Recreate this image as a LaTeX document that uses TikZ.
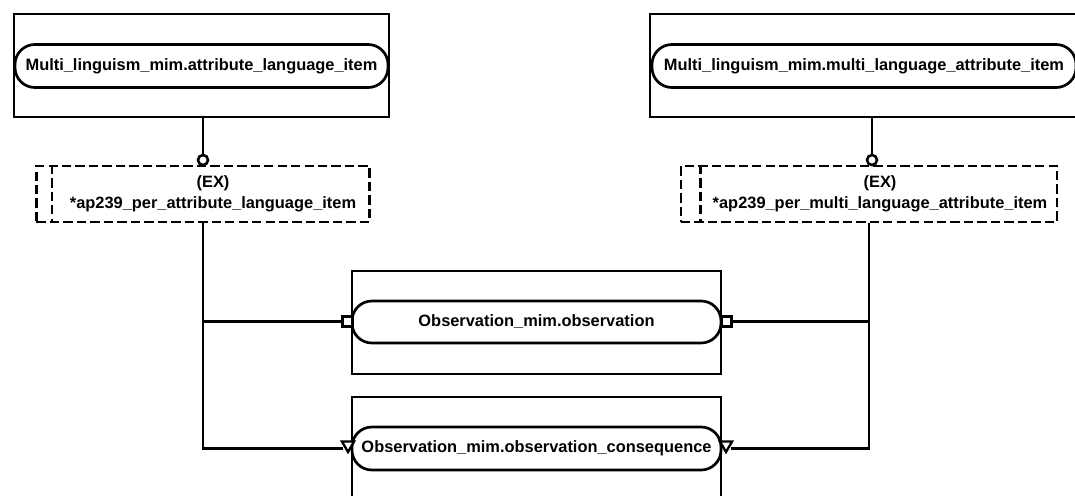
\documentclass[tikz,border=0pt]{standalone}
\usepackage{fontspec}
\setmainfont{Liberation Sans}
\usetikzlibrary{shapes.geometric}

\tikzset{
  entbox/.style={draw,line width=2.3pt,minimum height=3.09cm,inner sep=0pt},
  attbox/.style={draw,line width=2.3pt,rounded corners=17pt,minimum height=1.29cm,inner sep=0pt,fill=white,font=\fontsize{14}{18}\selectfont\bfseries},
  exbox/.style={draw,line width=2.3pt,dash pattern=on 8pt off 3.5pt,minimum height=1.68cm,inner sep=0pt},
  exline/.style={line width=2.3pt,dash pattern=on 8pt off 3.5pt},
  extext/.style={align=center,inner sep=0pt,font=\fontsize{14}{18}\selectfont\bfseries},
  circmark/.style={draw,circle,line width=2.2pt,minimum size=0.3cm,inner sep=0pt,fill=white},
  sqmark/.style={draw,line width=2.2pt,minimum size=0.3cm,inner sep=0pt,fill=white},
  trimark/.style={draw,regular polygon,regular polygon sides=3,shape border rotate=180,line width=2pt,minimum size=0.42cm,inner sep=0pt,fill=white},
  conn/.style={line width=2.3pt}
}

\begin{document}
\begin{tikzpicture}[x=0.03cm,y=-0.03cm]
\useasboundingbox (0,0) rectangle (1075,495);
\clip (0,0) rectangle (1075,495);

% upper entities
\node[entbox,minimum width=11.25cm] (lingattr) at (201.5,65.5) {};
\node[attbox,minimum width=11.19cm] (lingattrname) at (201.5,66) {Multi\_linguism\_mim.attribute\_language\_item};
\node[entbox,minimum width=13.32cm] (lingmulti) at (872,65.5) {};
\node[attbox,minimum width=12.72cm] (lingmultiname) at (864,66) {Multi\_linguism\_mim.multi\_language\_attribute\_item};

% extension boxes
\node[exbox,minimum width=9.99cm] (lex) at (203,194) {};
\draw[exline] ([xshift=0.51cm]lex.north west) -- ([xshift=0.51cm]lex.south west);
\node[extext] (lextext) at ([xshift=0.3cm]lex.center) {(EX)\\*ap239\_per\_attribute\_language\_item};
\node[exbox,minimum width=11.28cm] (rex) at (869,194) {};
\draw[exline] ([xshift=0.63cm]rex.north west) -- ([xshift=0.63cm]rex.south west);
\node[extext] (rextext) at ([xshift=0.33cm]rex.center) {(EX)\\*ap239\_per\_multi\_language\_attribute\_item};

% observation entities
\node[entbox,minimum width=11.07cm] (obs) at (536.5,322.5) {};
\node[attbox,minimum width=11.07cm,minimum height=1.26cm] (obsname) at (536.5,322) {Observation\_mim.observation};
\node[entbox,minimum width=11.07cm] (cons) at (536.5,448.5) {};
\node[attbox,minimum width=11.07cm] (consname) at (536.5,448.5) {Observation\_mim.observation\_consequence};

% markers
\node[circmark] (lcirc) at (203,160) {};
\node[circmark] (rcirc) at (872,160) {};
\node[sqmark] (obsl) at (347.5,321.5) {};
\node[sqmark] (obsr) at (726.5,321.5) {};
\node[trimark] (consl) at (348,445) {};
\node[trimark] (consr) at (726,445) {};

% connectors
\draw[conn] (lingattr.south -| lcirc) -- (lcirc);
\draw[conn] (lingmulti.south -| rcirc) -- (rcirc);
\draw[conn] (lex.south) |- (obsl.west);
\draw[conn] (lex.south) |- (consl.west |- consname);
\draw[conn] (rex.south) |- (obsr.east);
\draw[conn] (rex.south) |- (consr.east |- consname);

\end{tikzpicture}
\end{document}
